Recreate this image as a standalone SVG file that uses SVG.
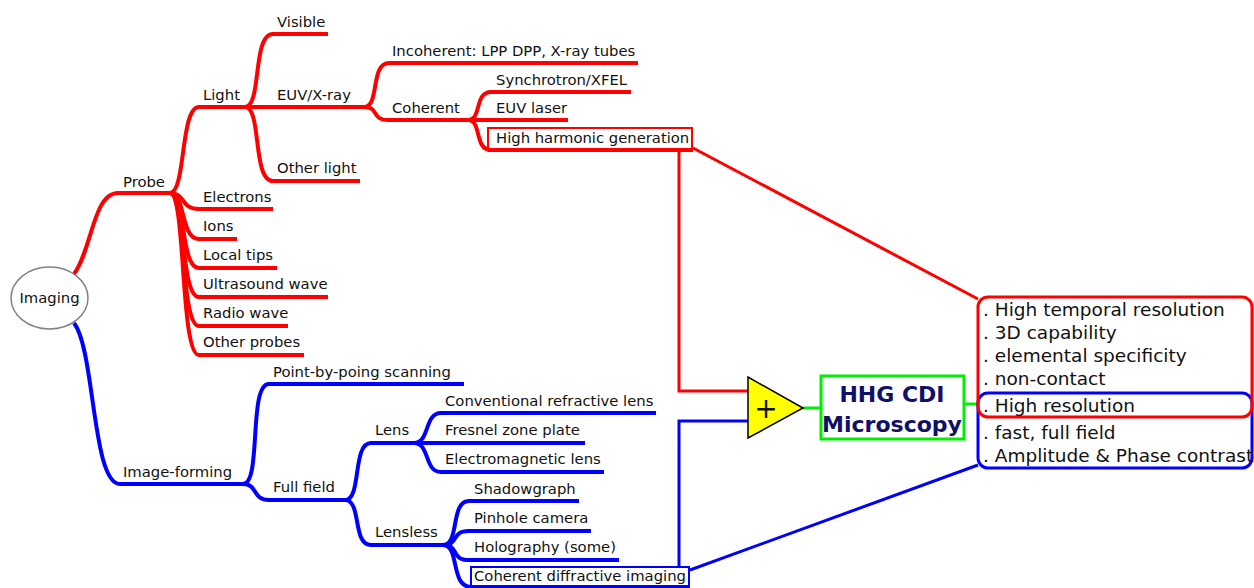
<svg xmlns="http://www.w3.org/2000/svg" width="1254" height="588" viewBox="0 0 1254 588">
<style>
text{font-family:"DejaVu Sans","Liberation Sans",sans-serif;fill:#111}
.t{font-size:14.8px}
.r{fill:none;stroke:#ff0000;stroke-width:4;stroke-linecap:butt}
.b{fill:none;stroke:#0000ff;stroke-width:4;stroke-linecap:butt}
.rt{fill:none;stroke:#ff0000;stroke-width:3}
.bt{fill:none;stroke:#0000ff;stroke-width:3}
.g{fill:none;stroke:#00ee00;stroke-width:3}
.big{font-size:18.5px}
.hh{font-size:22px;font-weight:bold;fill:#101068;text-anchor:middle}
</style>
<rect width="1254" height="588" fill="#fff"/>
<g id="connectors">
  <path class="r" d="M74,274 C92,250 93,193 118,193"/>
  <path class="r" d="M170,193 C186,193 180,107 199,107"/>
  <path class="r" d="M245,107 C262,107 252,34 273,34"/>
  <path class="r" d="M245,107 L273,107"/>
  <path class="r" d="M245,107 C262,107 252,181 273,181"/>
  <path class="r" d="M364,107 C380,107 370,63 389,63"/>
  <path class="r" d="M364,107 C380,107 370,120 389,120"/>
  <path class="r" d="M468,120 C482,120 474,92 491,92"/>
  <path class="r" d="M468,120 L491,120"/>
  <path class="r" d="M468,120 C482,120 474,150 491,150"/>
  <path class="r" d="M170,193 C186,193 180,209 199,209"/>
  <path class="r" d="M170,193 C186,193 180,239 199,239"/>
  <path class="r" d="M170,193 C186,193 180,268 199,268"/>
  <path class="r" d="M170,193 C186,193 180,297 199,297"/>
  <path class="r" d="M170,193 C186,193 180,326 199,326"/>
  <path class="r" d="M170,193 C186,193 180,355 199,355"/>
  <path class="b" d="M74,323 C95,350 92,484 120,484"/>
  <path class="b" d="M243,484 C262,484 248,384 269,384"/>
  <path class="b" d="M243,484 C258,484 252,500 269,500"/>
  <path class="b" d="M345,500 C362,500 352,443 371,443"/>
  <path class="b" d="M345,500 C362,500 352,545 371,545"/>
  <path class="b" d="M414,443 C430,443 424,413 441,413"/>
  <path class="b" d="M414,443 L441,443"/>
  <path class="b" d="M414,443 C430,443 424,472 441,472"/>
  <path class="b" d="M443,545 C460,545 450,501 469,501"/>
  <path class="b" d="M443,545 C460,545 450,531 469,531"/>
  <path class="b" d="M443,545 C460,545 450,560 469,560"/>
  <path class="b" d="M443,545 C460,545 450,587 471,587"/>
  <path class="rt" d="M679,150 L679,391 L748,391"/>
  <path class="rt" d="M693,148 L978,299"/>
  <path class="bt" d="M679,566 L679,421 L748,421"/>
  <path class="bt" d="M690,570 L978,465"/>
  <path class="g" d="M803,408 L821,408"/>
  <path class="g" d="M964,404 L978,404"/>
</g>
<g id="imaging">
  <ellipse cx="49.5" cy="298" rx="38.5" ry="31" fill="#fff" stroke="#808080" stroke-width="1.5"/>
  <text class="t" x="49.5" y="303" text-anchor="middle">Imaging</text>
</g>
<g id="probe"><path class="r" d="M117,193 L172,193"/><text class="t" x="123" y="187">Probe</text></g>
<g id="light"><path class="r" d="M198,107 L246,107"/><text class="t" x="203" y="100">Light</text></g>
<g id="visible"><path class="r" d="M272,34 L328,34"/><text class="t" x="277" y="27">Visible</text></g>
<g id="euv"><path class="r" d="M272,107 L366,107"/><text class="t" x="277" y="100">EUV/X-ray</text></g>
<g id="otherlight"><path class="r" d="M272,181 L360,181"/><text class="t" x="277" y="173">Other light</text></g>
<g id="incoherent"><path class="r" d="M388,63 L638,63"/><text class="t" x="392" y="56">Incoherent: LPP DPP, X-ray tubes</text></g>
<g id="coherent"><path class="r" d="M388,120 L469,120"/><text class="t" x="392" y="113">Coherent</text></g>
<g id="synchrotron"><path class="r" d="M490,92 L631,92"/><text class="t" x="496" y="85">Synchrotron/XFEL</text></g>
<g id="euvlaser"><path class="r" d="M490,120 L568,120"/><text class="t" x="496" y="113">EUV laser</text></g>
<g id="hhg">
  <path class="r" d="M488,150 L693,150"/>
  <rect x="488" y="128" width="204" height="21" fill="none" stroke="#ff0000" stroke-width="2"/>
  <text class="t" x="496" y="143">High harmonic generation</text>
</g>
<g id="electrons"><path class="r" d="M198,209 L273,209"/><text class="t" x="203" y="202">Electrons</text></g>
<g id="ions"><path class="r" d="M198,239 L237,239"/><text class="t" x="203" y="231">Ions</text></g>
<g id="localtips"><path class="r" d="M198,268 L277,268"/><text class="t" x="203" y="260">Local tips</text></g>
<g id="ultrasound"><path class="r" d="M198,297 L328,297"/><text class="t" x="203" y="289">Ultrasound wave</text></g>
<g id="radio"><path class="r" d="M198,326 L288,326"/><text class="t" x="203" y="318">Radio wave</text></g>
<g id="otherprobes"><path class="r" d="M198,355 L304,355"/><text class="t" x="203" y="347">Other probes</text></g>
<g id="imageforming"><path class="b" d="M119,484 L244,484"/><text class="t" x="123" y="477">Image-forming</text></g>
<g id="pointscan"><path class="b" d="M268,384 L464,384"/><text class="t" x="273" y="377">Point-by-poing scanning</text></g>
<g id="fullfield"><path class="b" d="M268,500 L346,500"/><text class="t" x="273" y="492">Full field</text></g>
<g id="lens"><path class="b" d="M370,443 L415,443"/><text class="t" x="375" y="435">Lens</text></g>
<g id="lensless"><path class="b" d="M370,545 L444,545"/><text class="t" x="375" y="537">Lensless</text></g>
<g id="conventional"><path class="b" d="M440,413 L656,413"/><text class="t" x="445" y="406">Conventional refractive lens</text></g>
<g id="fresnel"><path class="b" d="M440,443 L585,443"/><text class="t" x="445" y="435">Fresnel zone plate</text></g>
<g id="electromagnetic"><path class="b" d="M440,472 L604,472"/><text class="t" x="445" y="464">Electromagnetic lens</text></g>
<g id="shadowgraph"><path class="b" d="M468,501 L579,501"/><text class="t" x="474" y="494">Shadowgraph</text></g>
<g id="pinhole"><path class="b" d="M468,531 L591,531"/><text class="t" x="474" y="523">Pinhole camera</text></g>
<g id="holography"><path class="b" d="M468,560 L619,560"/><text class="t" x="474" y="552">Holography (some)</text></g>
<g id="cdi">
  <path class="b" d="M470,587 L690,587"/>
  <rect x="471" y="567" width="218" height="19" fill="none" stroke="#0000ff" stroke-width="2"/>
  <text class="t" x="474" y="581">Coherent diffractive imaging</text>
</g>
<g id="adder">
  <polygon points="748,377 748,438 803,408" fill="#ffff00" stroke="#000" stroke-width="1.5"/>
  <text x="766" y="418" font-size="28" text-anchor="middle">+</text>
</g>
<g id="hhgcdi">
  <rect x="821" y="376" width="143" height="63" fill="#fff" stroke="#00ee00" stroke-width="3"/>
  <text class="hh" x="892" y="402">HHG CDI</text>
  <text class="hh" x="892" y="432">Microscopy</text>
</g>
<g id="advantages">
  <rect x="978" y="393" width="274" height="75" rx="10" fill="none" stroke="#0000ff" stroke-width="3"/>
  <rect x="978" y="297" width="274" height="120" rx="10" fill="none" stroke="#ff0000" stroke-width="3"/>
  <text class="big" x="983" y="316">. High temporal resolution</text>
  <text class="big" x="983" y="339">. 3D capability</text>
  <text class="big" x="983" y="362">. elemental specificity</text>
  <text class="big" x="983" y="385">. non-contact</text>
  <text class="big" x="983" y="412">. High resolution</text>
  <text class="big" x="983" y="439">. fast, full field</text>
  <text class="big" x="983" y="462">. Amplitude &amp; Phase contrast</text>
</g>
</svg>
